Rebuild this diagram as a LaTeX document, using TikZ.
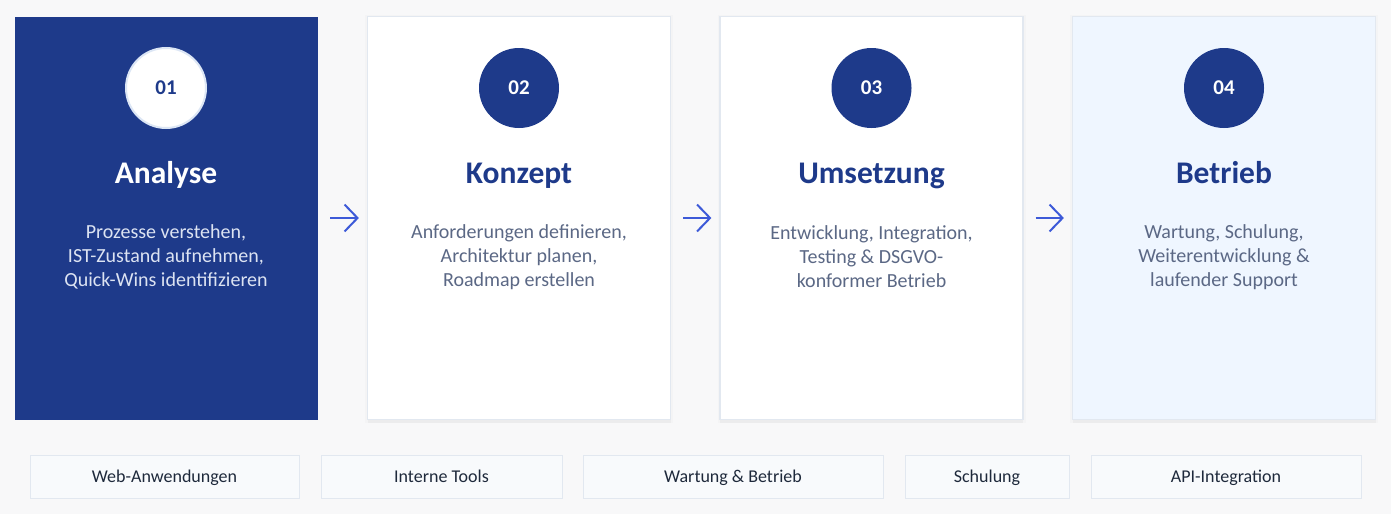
\documentclass[tikz,border=0pt]{standalone}
\usepackage{fontspec}
\setmainfont{Carlito}
\usetikzlibrary{arrows.meta}
\definecolor{bg}{HTML}{F8F8F9}
\definecolor{navy}{HTML}{1E3A8A}
\definecolor{cardline}{HTML}{E2E8F0}
\definecolor{lightfill}{HTML}{EFF6FF}
\definecolor{desc}{HTML}{5B6885}
\definecolor{descw}{HTML}{DCE3F2}
\definecolor{arrowc}{HTML}{3D5AD8}
\definecolor{tagfill}{HTML}{F8FAFC}
\definecolor{tagtext}{HTML}{1E293B}
\definecolor{ringc}{HTML}{DCE6F5}
\tikzset{
  card/.style={rectangle, minimum width=303pt, minimum height=403pt, inner sep=0pt, line width=1.2pt},
  whitecard/.style={card, draw=cardline, fill=white,
    preaction={fill=black, opacity=0.03, transform canvas={yshift=-3pt}},
    preaction={draw=black, line width=5pt, opacity=0.015, transform canvas={yshift=-1pt}}},
  numcirc/.style={circle, minimum size=80pt, inner sep=0pt, text height=13.5pt, text depth=0pt, font=\fontsize{21}{24}\selectfont\bfseries},
  titletext/.style={anchor=base, inner sep=0pt, font=\fontsize{31.5}{36}\selectfont\bfseries},
  desctext/.style={align=center, font=\fontsize{20}{24}\selectfont},
  arr/.style={draw=arrowc, line width=2pt, -{Straight Barb[length=13pt,width=27pt,line width=2pt]}, shorten <=12pt, shorten >=8pt},
  tag/.style={rectangle, draw=cardline, fill=tagfill, line width=1pt, minimum height=43pt, inner sep=0pt, text height=12.5pt, text depth=0pt, text=tagtext, font=\fontsize{18}{21}\selectfont}
}
\begin{document}
\begin{tikzpicture}[x=1pt,y=-1pt]
\fill[bg] (0,0) rectangle (1391,514);
\useasboundingbox (0,0) rectangle (1391,514);

% cards
\node[card, fill=navy] (c1) at (166,218) {};
\node[whitecard] (c2) at (519,218) {};
\node[whitecard] (c3) at (871.5,218) {};
\node[whitecard, fill=lightfill] (c4) at (1224,218) {};

% circles
\node[numcirc, fill=white, draw=ringc, line width=2pt, text=navy] (n1) at (166,88) {01};
\node[numcirc, fill=navy, text=white] (n2) at (519,88) {02};
\node[numcirc, fill=navy, text=white] (n3) at (871.5,88) {03};
\node[numcirc, fill=navy, text=white] (n4) at (1224,88) {04};

% titles
\node[titletext, text=white] (t1) at (166,183) {Analyse};
\node[titletext, text=navy] (t2) at (519,183) {Konzept};
\node[titletext, text=navy] (t3) at (871.5,183) {Umsetzung};
\node[titletext, text=navy] (t4) at (1224,183) {Betrieb};

% descriptions
\node[desctext, text=descw] (d1) at (166,257) {Prozesse verstehen,\\IST-Zustand aufnehmen,\\Quick-Wins identifizieren};
\node[desctext, text=desc] (d2) at (519,257) {Anforderungen definieren,\\Architektur planen,\\Roadmap erstellen};
\node[desctext, text=desc] (d3) at (871.5,257) {Entwicklung, Integration,\\Testing \& DSGVO-\\konformer Betrieb};
\node[desctext, text=desc] (d4) at (1224,257) {Wartung, Schulung,\\Weiterentwicklung \&\\laufender Support};

% arrows
\draw[arr] (c1.east) -- (c2.west);
\draw[arr] (c2.east) -- (c3.west);
\draw[arr] (c3.east) -- (c4.west);

% tags
\node[tag, minimum width=269pt] (g1) at (164.5,476.5) {Web-Anwendungen};
\node[tag, minimum width=241pt] (g2) at (441.5,476.5) {Interne Tools};
\node[tag, minimum width=300pt] (g3) at (733,476.5) {Wartung \& Betrieb};
\node[tag, minimum width=164pt] (g4) at (987,476.5) {Schulung};
\node[tag, minimum width=270pt] (g5) at (1226,476.5) {API-Integration};
\end{tikzpicture}
\end{document}
